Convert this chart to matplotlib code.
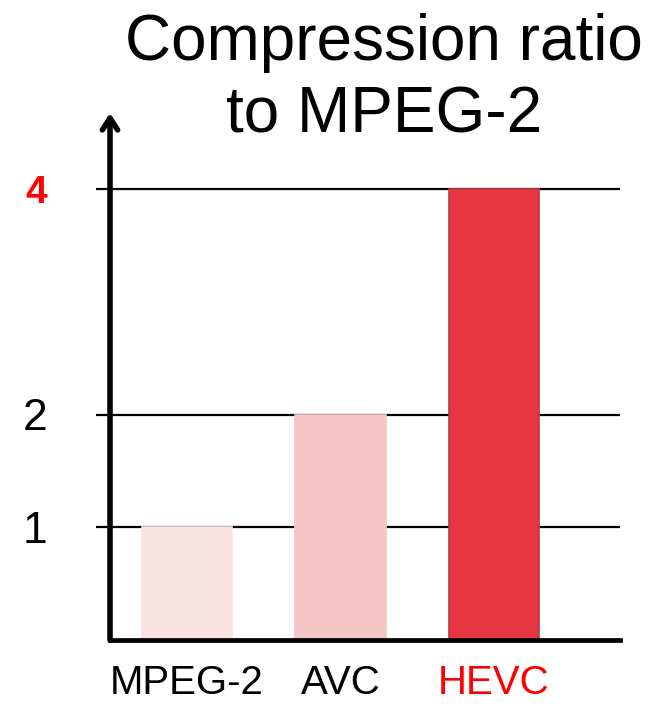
import matplotlib
matplotlib.use('Agg')
import matplotlib.pyplot as plt

# values
codecs = ['MPEG-2', 'AVC', 'HEVC']
ratios = [1, 2, 4]
bar_colors = ['#FBE2E2', '#F6C5C5', '#E73542']
edge_colors = ['#FBE2E2', '#F6C5C5', '#B83A44']
label_colors = ['black', 'black', '#FF0000']
yticks = [1, 2, 4]
ytick_colors = ['black', 'black', '#FF0000']
ytick_weights = ['normal', 'normal', 'bold']
ytick_sizes = [32, 32, 28]
title = 'Compression ratio\nto MPEG-2'

plt.rcParams['font.family'] = ['Liberation Sans', 'DejaVu Sans']

fig = plt.figure(figsize=(6.61, 7.06), dpi=100)
ax = fig.add_axes([110 / 661, 66 / 706, 510 / 661, (640 - 113) / 706])

x = list(range(len(codecs)))
ax.bar(x, ratios, width=0.59, color=bar_colors, edgecolor=edge_colors, linewidth=1.2, zorder=3)

ax.set_xlim(-0.502, 2.82)
ax.set_ylim(0, 4 * 527 / 451)

ax.set_yticks(yticks)
ax.set_yticklabels([str(v) for v in yticks])
for lab, c, w, s in zip(ax.get_yticklabels(), ytick_colors, ytick_weights, ytick_sizes):
    lab.set_color(c)
    lab.set_fontweight(w)
    lab.set_fontsize(s)
ax.yaxis.grid(True, color='black', linewidth=1.6, zorder=1)
ax.tick_params(axis='y', length=10, width=1.6, pad=35, direction='out')

ax.set_xticks(x)
ax.set_xticklabels(codecs, fontsize=29)
for lab, c in zip(ax.get_xticklabels(), label_colors):
    lab.set_color(c)
ax.tick_params(axis='x', length=0, pad=17)

for s in ['top', 'right', 'left']:
    ax.spines[s].set_visible(False)
ax.spines['bottom'].set_linewidth(3.4)
ax.spines['bottom'].set_zorder(4)

# y axis drawn as an arrow
ax.annotate('', xy=(0, 1.0), xytext=(0, 0), xycoords='axes fraction',
            arrowprops=dict(arrowstyle='->,head_width=0.55,head_length=0.85',
                            lw=4, color='black', shrinkA=0, shrinkB=0),
            zorder=5, annotation_clip=False)

fig.text(384 / 661, 1 - 13 / 706, title, ha='center', va='top', fontsize=46,
         linespacing=1.27)

fig.savefig('out.png', dpi=100)
